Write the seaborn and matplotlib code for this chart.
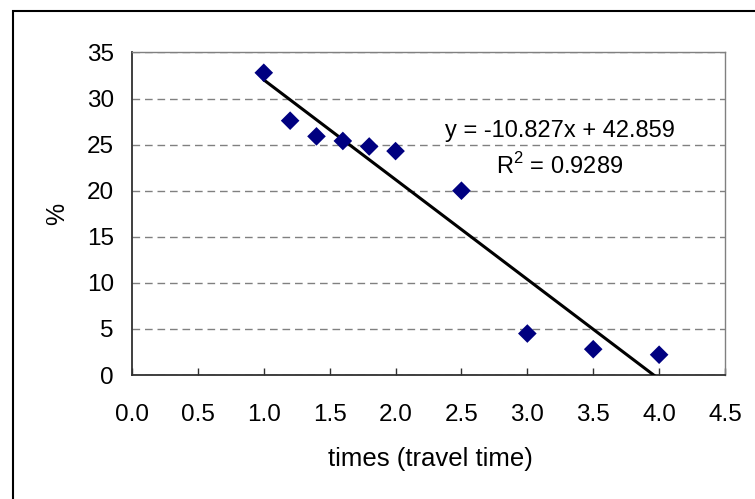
import numpy as np
import pandas as pd
import seaborn as sns
import matplotlib.pyplot as plt
from matplotlib.patches import Rectangle

# Share of trips (%) by travel-time multiple
travel_times = [1.0, 1.2, 1.4, 1.6, 1.8, 2.0, 2.5, 3.0, 3.5, 4.0]
percent = [32.8, 27.6, 25.9, 25.4, 24.8, 24.3, 20.0, 4.5, 2.8, 2.2]

# Linear trend fitted to the points
slope = -10.827
intercept = 42.859
r_squared = 0.9289

x_ticks = [0.0, 0.5, 1.0, 1.5, 2.0, 2.5, 3.0, 3.5, 4.0, 4.5]
y_ticks = [0, 5, 10, 15, 20, 25, 30, 35]

sns.set_theme(style="white")
plt.rcParams["font.family"] = ["Liberation Sans", "DejaVu Sans"]
plt.rcParams["mathtext.fontset"] = "custom"
plt.rcParams["mathtext.rm"] = "Liberation Sans"

W, H = 755, 499
fig = plt.figure(figsize=(W / 100, H / 100), dpi=100)
fig.patch.set_facecolor("white")

# plot area in pixel terms
left, right, top, bottom = 132, 725, 52.5, 375
ax = fig.add_axes([left / W, (H - bottom) / H, (right - left) / W, (bottom - top) / H])
ax.set_facecolor("white")

df = pd.DataFrame({"times": travel_times, "pct": percent})

trend_x = np.array([min(travel_times), max(travel_times)])
trend = pd.DataFrame({"times": trend_x, "pct": slope * trend_x + intercept})

sns.lineplot(data=trend, x="times", y="pct", ax=ax, color="black", lw=2.2, zorder=3)
sns.scatterplot(data=df, x="times", y="pct", ax=ax, marker="D", s=90,
                color="#000080", edgecolor="none", zorder=4)

ax.set_xlim(0, 4.5)
ax.set_ylim(0, 35)
ax.set_xticks(x_ticks)
ax.set_xticklabels([f"{t:.1f}" for t in x_ticks])
ax.set_yticks(y_ticks)
ax.set_yticklabels([str(t) for t in y_ticks])
ax.set_xlabel("")
ax.set_ylabel("")

ax.yaxis.grid(True, color="#808080", lw=1.0, linestyle=(0, (5.5, 3.5)))
ax.xaxis.grid(False)
ax.set_axisbelow(True)

for side in ("left", "bottom"):
    ax.spines[side].set_color("#303030")
    ax.spines[side].set_linewidth(1.3)
for side in ("top", "right"):
    ax.spines[side].set_color("#808080")
    ax.spines[side].set_linewidth(1.0)

ax.tick_params(axis="x", direction="in", length=5, width=1.0, color="#303030",
               pad=21, labelsize=17.5, labelcolor="black", bottom=True)
ax.tick_params(axis="y", length=0, pad=13, labelsize=17.5, labelcolor="black", left=True)

# trend equation
ax.text((560 - left) / (right - left), (bottom - 131) / (bottom - top),
        f"y = {slope}x + {intercept}", transform=ax.transAxes,
        ha="center", va="center", fontsize=17, color="black")
ax.text((560 - left) / (right - left), (bottom - 166) / (bottom - top),
        f"R$^{{\\mathrm{{2}}}}$ = {r_squared}", transform=ax.transAxes,
        ha="center", va="center", fontsize=17, color="black")

# axis titles
fig.text(430 / W, 1 - 459 / H, "times (travel time)", ha="center", va="center",
         fontsize=18.5, color="black")
fig.text(57 / W, 1 - 214 / H, "%", ha="center", va="center", rotation=90,
         fontsize=18, color="black")

# chart-area border
fig.patches.append(Rectangle((13 / W, -0.2), 1.0, (H - 11) / H + 0.2,
                             transform=fig.transFigure, fill=False,
                             ec="black", lw=1.5))

fig.savefig("out.png", dpi=100)
